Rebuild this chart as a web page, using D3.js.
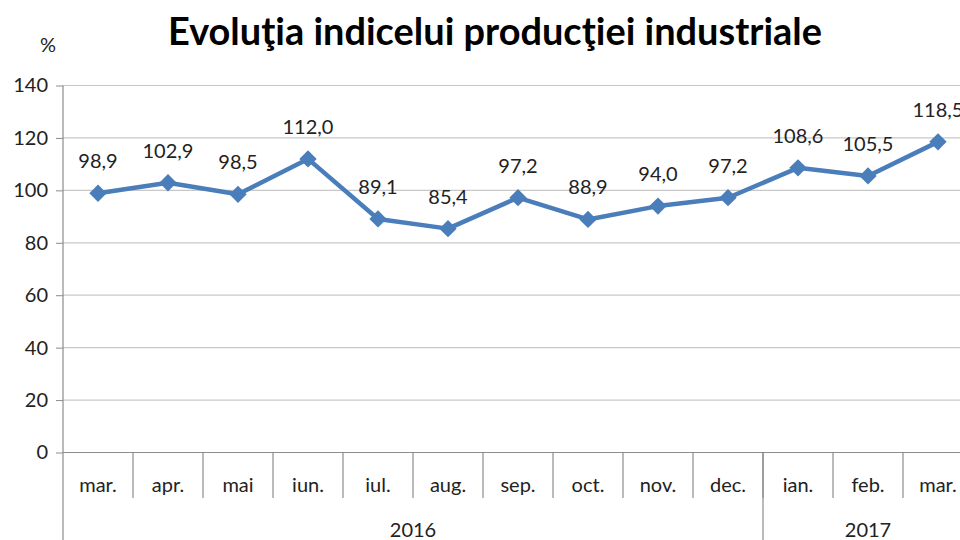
<!DOCTYPE html>
<meta charset="utf-8" />
<script src="https://d3js.org/d3.v7.min.js"></script>
<body style="margin:0;background:#fff">
<svg id="chart" width="960" height="540" style="display:block"></svg>
<script>
/* DATA ---------------------------------------------------------------- */
const months=["mar.","apr.","mai","iun.","iul.","aug.","sep.","oct.","nov.","dec.","ian.","feb.","mar."];
const values=[98.9,102.9,98.5,112.0,89.1,85.4,97.2,88.9,94.0,97.2,108.6,105.5,118.5];
const years=["2016","2017"];
const yearSpan=[10,3];
const yTicks=[0,20,40,60,80,100,120,140];

/* CONFIG -------------------------------------------------------------- */
const W=960,H=540,plotL=63,bandW=70,plotT=85.5,plotB=452.5;
const font="Lato, 'Open Sans', sans-serif";
const blue="#4a7ebb";
const fmt=v=>d3.format(".1f")(v).replace(".",",");

const svg=d3.select("#chart").style("font-family",font);
const x=d3.scaleBand().domain(d3.range(months.length))
  .range([plotL,plotL+bandW*months.length]).padding(0);
const y=d3.scaleLinear().domain([0,140]).range([plotB,plotT]);

/* title --------------------------------------------------------------- */
svg.append("text").attr("x",495).attr("y",45).attr("text-anchor","middle")
  .attr("font-size",38).attr("font-weight",700).attr("fill","#000")
  .attr("textLength",654).attr("lengthAdjust","spacingAndGlyphs")
  .text("Evoluţia indicelui producţiei industriale");
svg.append("text").attr("x",48).attr("y",52).attr("text-anchor","middle")
  .attr("font-size",20).attr("fill","#222").text("%");

/* grid + y axis ------------------------------------------------------- */
svg.append("g").selectAll("line").data(yTicks.filter(d=>d>0)).join("line")
  .attr("x1",plotL).attr("x2",W).attr("y1",d=>y(d)).attr("y2",d=>y(d))
  .attr("stroke","#c8c8c8").attr("stroke-width",1.2);

const yAxis=svg.append("g").attr("transform",`translate(${plotL},0)`)
  .call(d3.axisLeft(y).tickValues(yTicks).tickSize(7).tickPadding(8).tickFormat(d3.format("d")));
yAxis.select(".domain").remove();
yAxis.selectAll(".tick line").attr("stroke","#8c8c8c");
yAxis.selectAll(".tick text").attr("font-size",20).attr("fill","#222").attr("font-family",font);

svg.append("line").attr("x1",plotL).attr("x2",plotL).attr("y1",plotT).attr("y2",H)
  .attr("stroke","#8c8c8c").attr("stroke-width",1.2);
svg.append("line").attr("x1",plotL).attr("x2",W).attr("y1",plotB).attr("y2",plotB)
  .attr("stroke","#8c8c8c").attr("stroke-width",1.2);

/* category axis ------------------------------------------------------- */
svg.append("g").selectAll("line").data(d3.range(1,months.length)).join("line")
  .attr("x1",i=>x(i)).attr("x2",i=>x(i)).attr("y1",plotB).attr("y2",498)
  .attr("stroke","#8c8c8c").attr("stroke-width",1.2);
svg.append("g").selectAll("text").data(months).join("text")
  .attr("x",(d,i)=>x(i)+x.bandwidth()/2).attr("y",492).attr("text-anchor","middle")
  .attr("font-size",20).attr("fill","#222").text(d=>d);

let acc=0;
const yearPos=yearSpan.map(n=>{const s=acc;acc+=n;return[s,acc];});
svg.append("g").selectAll("line").data(yearPos.slice(1)).join("line")
  .attr("x1",d=>x(d[0])).attr("x2",d=>x(d[0])).attr("y1",plotB).attr("y2",H)
  .attr("stroke","#8c8c8c").attr("stroke-width",1.2);
svg.append("g").selectAll("text").data(years).join("text")
  .attr("x",(d,i)=>(x(yearPos[i][0])+x(yearPos[i][1]-1)+x.bandwidth())/2)
  .attr("y",537).attr("text-anchor","middle")
  .attr("font-size",20).attr("fill","#222").text(d=>d);

/* series -------------------------------------------------------------- */
const cx=i=>x(i)+x.bandwidth()/2;
svg.append("path").datum(values)
  .attr("d",d3.line().x((d,i)=>cx(i)).y(d=>y(d)))
  .attr("fill","none").attr("stroke",blue).attr("stroke-width",4.5).attr("stroke-linejoin","round");

svg.append("g").selectAll("path").data(values).join("path")
  .attr("d",d3.symbol(d3.symbolSquare,150))
  .attr("transform",(d,i)=>`translate(${cx(i)},${y(d)}) rotate(45)`)
  .attr("fill",blue);

svg.append("g").selectAll("text").data(values).join("text")
  .attr("x",(d,i)=>cx(i)).attr("y",d=>y(d)-25).attr("text-anchor","middle")
  .attr("font-size",20).attr("fill","#222").text(fmt);
</script>
</body>
